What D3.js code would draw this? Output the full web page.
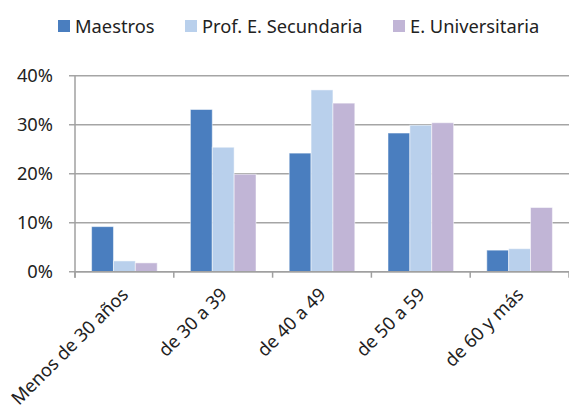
<!DOCTYPE html>
<html><head><meta charset="utf-8">
<script src="https://cdn.jsdelivr.net/npm/d3@7"></script>
<style>html,body{margin:0;padding:0;background:#fff;}svg{display:block;}</style>
</head><body>
<svg id="c" width="569" height="409"></svg>
<script>
const categories = ["Menos de 30 años","de 30 a 39","de 40 a 49","de 50 a 59","de 60 y más"];
const seriesNames = ["Maestros","Prof. E. Secundaria","E. Universitaria"];
const maestros = [9.2, 33.1, 24.2, 28.3, 4.4];
const secundaria = [2.2, 25.4, 37.1, 29.9, 4.7];
const universitaria = [1.8, 19.9, 34.4, 30.4, 13.1];
const yTicks = [0, 10, 20, 30, 40];
const colors = ["#4a7ebf", "#b9d0ec", "#c1b5d6"];

const series = [maestros, secundaria, universitaria];
const svg = d3.select("#c");
const font = "'Noto Sans', 'Liberation Sans', sans-serif";
const fs = 18.3;
const L = 75, R = 569, T = 75.7, B = 271.7;

const x = d3.scaleBand().domain(categories).range([L, R]).paddingInner(0.336).paddingOuter(0.168);
const xs = d3.scaleBand().domain(seriesNames).range([0, x.bandwidth()]);
const y = d3.scaleLinear().domain([0, 40]).range([B, T]);

// gridlines
svg.append("g").selectAll("line").data(yTicks).join("line")
  .attr("x1", L - 6).attr("x2", R).attr("y1", d => y(d)).attr("y2", d => y(d))
  .attr("stroke", "#a5a5a5").attr("stroke-width", 1.5);

// bars
const g = svg.append("g");
series.forEach((vals, si) => {
  g.selectAll(null).data(categories).join("rect")
    .attr("x", c => x(c) + xs(seriesNames[si]))
    .attr("width", xs.bandwidth())
    .attr("y", (c, i) => y(vals[i]))
    .attr("height", (c, i) => y(0) - y(vals[i]))
    .attr("fill", colors[si])
    .attr("stroke", "rgba(255,255,255,0.5)").attr("stroke-width", 1);
});

// y axis line
svg.append("line").attr("x1", L).attr("x2", L).attr("y1", T).attr("y2", B + 6)
  .attr("stroke", "#a0a0a0").attr("stroke-width", 1.5);
// x axis
svg.append("line").attr("x1", L).attr("x2", R).attr("y1", B).attr("y2", B)
  .attr("stroke", "#a0a0a0").attr("stroke-width", 1.5);
const step = x.step();
svg.append("g").selectAll("line").data(d3.range(categories.length + 1)).join("line")
  .attr("x1", i => L + i * step).attr("x2", i => L + i * step)
  .attr("y1", B).attr("y2", B + 6)
  .attr("stroke", "#a0a0a0").attr("stroke-width", 1.5);

// y labels
svg.append("g").selectAll("text").data(yTicks).join("text")
  .attr("x", 53).attr("y", d => y(d)).attr("dy", "0.35em")
  .attr("text-anchor", "end").attr("font-family", font).attr("font-size", fs)
  .attr("fill", "#222").text(d => d + "%");

// x labels
svg.append("g").selectAll("text").data(categories).join("text")
  .attr("text-anchor", "end").attr("font-family", font).attr("font-size", fs).attr("fill", "#222")
  .attr("transform", c => `translate(${x(c) + x.bandwidth() / 2 + 5},${B + 24}) rotate(-45)`)
  .text(c => c);

// legend
const legX = [58, 185, 393];
const lg = svg.append("g");
seriesNames.forEach((n, i) => {
  lg.append("rect").attr("x", legX[i]).attr("y", 20).attr("width", 12).attr("height", 12).attr("fill", colors[i]);
  lg.append("text").attr("x", legX[i] + 17).attr("y", 32.5).attr("font-family", font).attr("font-size", fs)
    .attr("fill", "#222").text(n);
});
</script>
</body></html>
